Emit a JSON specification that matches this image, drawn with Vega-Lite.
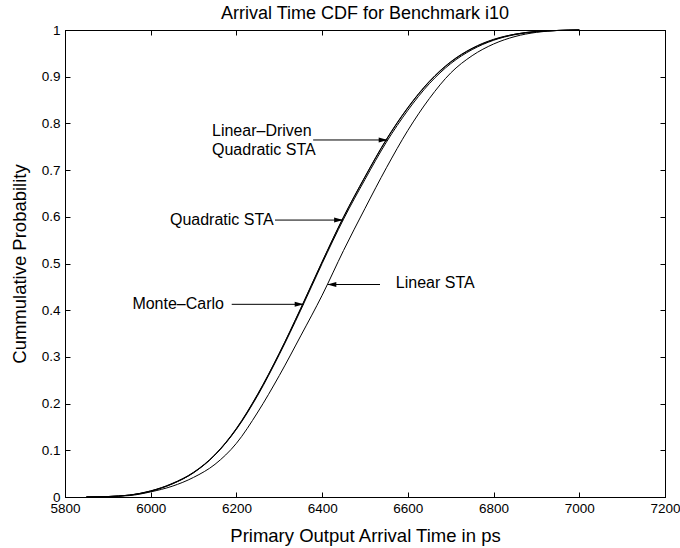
{
  "$schema": "https://vega.github.io/schema/vega-lite/v6.json",
  "width": 600,
  "height": 467,
  "autosize": {"type": "none"},
  "padding": {"left": 65, "top": 30, "right": 15, "bottom": 51},
  "background": "white",
  "config": {"view": {"stroke": "black", "strokeWidth": 1}, "font": "Liberation Sans"},
  "title": {"text": "Arrival Time CDF for Benchmark i10", "fontSize": 18, "fontWeight": "normal", "font": "Liberation Sans", "color": "black", "anchor": "middle", "baseline": "bottom", "offset": 10, "dy": 28},
  "datasets": {
    "curves": [
      {"s":"Monte-Carlo","t":5850,"p":0},{"s":"Monte-Carlo","t":5900,"p":0.001},{"s":"Monte-Carlo","t":5950,"p":0.004},{"s":"Monte-Carlo","t":6000,"p":0.013},{"s":"Monte-Carlo","t":6050,"p":0.028},{"s":"Monte-Carlo","t":6100,"p":0.052},{"s":"Monte-Carlo","t":6150,"p":0.09},{"s":"Monte-Carlo","t":6200,"p":0.145},{"s":"Monte-Carlo","t":6250,"p":0.218},{"s":"Monte-Carlo","t":6300,"p":0.305},{"s":"Monte-Carlo","t":6350,"p":0.4},{"s":"Monte-Carlo","t":6400,"p":0.5},{"s":"Monte-Carlo","t":6450,"p":0.595},{"s":"Monte-Carlo","t":6500,"p":0.68},{"s":"Monte-Carlo","t":6550,"p":0.76},{"s":"Monte-Carlo","t":6600,"p":0.828},{"s":"Monte-Carlo","t":6650,"p":0.885},{"s":"Monte-Carlo","t":6700,"p":0.928},{"s":"Monte-Carlo","t":6750,"p":0.958},{"s":"Monte-Carlo","t":6800,"p":0.978},{"s":"Monte-Carlo","t":6850,"p":0.99},{"s":"Monte-Carlo","t":6900,"p":0.996},{"s":"Monte-Carlo","t":6950,"p":0.999},{"s":"Monte-Carlo","t":7000,"p":1},
      {"s":"Quadratic STA","t":5850,"p":0},{"s":"Quadratic STA","t":5900,"p":0.001},{"s":"Quadratic STA","t":5950,"p":0.004},{"s":"Quadratic STA","t":6000,"p":0.013},{"s":"Quadratic STA","t":6050,"p":0.029},{"s":"Quadratic STA","t":6100,"p":0.053},{"s":"Quadratic STA","t":6150,"p":0.091},{"s":"Quadratic STA","t":6200,"p":0.147},{"s":"Quadratic STA","t":6250,"p":0.221},{"s":"Quadratic STA","t":6300,"p":0.308},{"s":"Quadratic STA","t":6350,"p":0.404},{"s":"Quadratic STA","t":6400,"p":0.504},{"s":"Quadratic STA","t":6450,"p":0.6},{"s":"Quadratic STA","t":6500,"p":0.686},{"s":"Quadratic STA","t":6550,"p":0.766},{"s":"Quadratic STA","t":6600,"p":0.834},{"s":"Quadratic STA","t":6650,"p":0.89},{"s":"Quadratic STA","t":6700,"p":0.932},{"s":"Quadratic STA","t":6750,"p":0.961},{"s":"Quadratic STA","t":6800,"p":0.98},{"s":"Quadratic STA","t":6850,"p":0.991},{"s":"Quadratic STA","t":6900,"p":0.997},{"s":"Quadratic STA","t":6950,"p":0.999},{"s":"Quadratic STA","t":7000,"p":1},
      {"s":"Linear-Driven Quadratic STA","t":5850,"p":0},{"s":"Linear-Driven Quadratic STA","t":5900,"p":0.001},{"s":"Linear-Driven Quadratic STA","t":5950,"p":0.004},{"s":"Linear-Driven Quadratic STA","t":6000,"p":0.012},{"s":"Linear-Driven Quadratic STA","t":6050,"p":0.028},{"s":"Linear-Driven Quadratic STA","t":6100,"p":0.052},{"s":"Linear-Driven Quadratic STA","t":6150,"p":0.09},{"s":"Linear-Driven Quadratic STA","t":6200,"p":0.146},{"s":"Linear-Driven Quadratic STA","t":6250,"p":0.22},{"s":"Linear-Driven Quadratic STA","t":6300,"p":0.307},{"s":"Linear-Driven Quadratic STA","t":6350,"p":0.403},{"s":"Linear-Driven Quadratic STA","t":6400,"p":0.503},{"s":"Linear-Driven Quadratic STA","t":6450,"p":0.599},{"s":"Linear-Driven Quadratic STA","t":6500,"p":0.685},{"s":"Linear-Driven Quadratic STA","t":6550,"p":0.765},{"s":"Linear-Driven Quadratic STA","t":6600,"p":0.833},{"s":"Linear-Driven Quadratic STA","t":6650,"p":0.889},{"s":"Linear-Driven Quadratic STA","t":6700,"p":0.931},{"s":"Linear-Driven Quadratic STA","t":6750,"p":0.96},{"s":"Linear-Driven Quadratic STA","t":6800,"p":0.979},{"s":"Linear-Driven Quadratic STA","t":6850,"p":0.991},{"s":"Linear-Driven Quadratic STA","t":6900,"p":0.997},{"s":"Linear-Driven Quadratic STA","t":6950,"p":0.999},{"s":"Linear-Driven Quadratic STA","t":7000,"p":1},
      {"s":"Linear STA","t":5850,"p":0},{"s":"Linear STA","t":5900,"p":0.001},{"s":"Linear STA","t":5950,"p":0.003},{"s":"Linear STA","t":6000,"p":0.011},{"s":"Linear STA","t":6050,"p":0.023},{"s":"Linear STA","t":6100,"p":0.042},{"s":"Linear STA","t":6150,"p":0.07},{"s":"Linear STA","t":6200,"p":0.115},{"s":"Linear STA","t":6250,"p":0.182},{"s":"Linear STA","t":6300,"p":0.26},{"s":"Linear STA","t":6350,"p":0.345},{"s":"Linear STA","t":6400,"p":0.432},{"s":"Linear STA","t":6450,"p":0.528},{"s":"Linear STA","t":6500,"p":0.618},{"s":"Linear STA","t":6550,"p":0.705},{"s":"Linear STA","t":6600,"p":0.785},{"s":"Linear STA","t":6650,"p":0.853},{"s":"Linear STA","t":6700,"p":0.908},{"s":"Linear STA","t":6750,"p":0.945},{"s":"Linear STA","t":6800,"p":0.97},{"s":"Linear STA","t":6850,"p":0.986},{"s":"Linear STA","t":6900,"p":0.995},{"s":"Linear STA","t":6950,"p":0.999},{"s":"Linear STA","t":7000,"p":1}
    ],
    "arrows": [
      {"label":"Monte-Carlo","x1":6189,"y1":0.4126,"x2":6357,"y2":0.4126,"dir":"right"},
      {"label":"Quadratic STA","x1":6290,"y1":0.593,"x2":6449,"y2":0.593,"dir":"right"},
      {"label":"Linear-Driven Quadratic STA","x1":6379,"y1":0.7645,"x2":6553,"y2":0.7645,"dir":"right"},
      {"label":"Linear STA","x1":6535,"y1":0.455,"x2":6412,"y2":0.455,"dir":"left"}
    ],
    "textsRight": [
      {"text":"Monte–Carlo","x":6171,"y":0.4143},
      {"text":"Quadratic STA","x":6287,"y":0.5931}
    ],
    "textsLeft": [
      {"text":"Linear–Driven","x":6143,"y":0.7827},
      {"text":"Quadratic STA","x":6143,"y":0.7441},
      {"text":"Linear STA","x":6572,"y":0.4572}
    ]
  },
  "layer": [
    {
      "data": {"name": "curves"},
      "mark": {"type": "line", "color": "black", "strokeWidth": 1, "interpolate": "monotone"},
      "encoding": {
        "x": {"field": "t", "type": "quantitative", "scale": {"domain": [5800, 7200], "nice": false, "zero": false},
          "axis": {"orient": "bottom", "values": [5800,6000,6200,6400,6600,6800,7000,7200], "format": "d", "tickSize": -5, "labelPadding": 9, "labelFontSize": 13.5, "labelFont": "Liberation Sans", "labelColor": "black", "tickColor": "black", "domainColor": "black", "grid": false, "labelFlush": false, "labelOverlap": false, "title": "Primary Output Arrival Time in ps", "titleFont": "Liberation Sans", "titleFontSize": 18.5, "titleFontWeight": "normal", "titleColor": "black", "titleY": 44, "titleBaseline": "alphabetic"}},
        "y": {"field": "p", "type": "quantitative", "scale": {"domain": [0, 1], "nice": false},
          "axis": {"orient": "left", "values": [0,0.1,0.2,0.3,0.4,0.5,0.6,0.7,0.8,0.9,1], "format": "~g", "tickSize": -5, "labelPadding": 10, "labelFontSize": 13.5, "labelFont": "Liberation Sans", "labelColor": "black", "tickColor": "black", "domainColor": "black", "grid": false, "labelFlush": false, "labelOverlap": false, "title": "Cummulative Probability", "titleFont": "Liberation Sans", "titleFontSize": 18.5, "titleFontWeight": "normal", "titleColor": "black", "titleX": -40, "titleY": 233.5, "titleAngle": -90, "titleAlign": "center", "titleBaseline": "alphabetic"}},
        "detail": {"field": "s", "type": "nominal"}
      }
    },
    {
      "data": {"name": "curves"},
      "mark": {"type": "line", "strokeOpacity": 0},
      "encoding": {
        "x": {"field": "t", "type": "quantitative", "scale": {"domain": [5800, 7200], "nice": false, "zero": false},
          "axis": {"orient": "top", "values": [5800,6000,6200,6400,6600,6800,7000,7200], "tickSize": -5, "labels": false, "tickColor": "black", "domainColor": "black", "grid": false, "title": null}},
        "y": {"field": "p", "type": "quantitative", "scale": {"domain": [0, 1], "nice": false},
          "axis": {"orient": "right", "values": [0,0.1,0.2,0.3,0.4,0.5,0.6,0.7,0.8,0.9,1], "tickSize": -5, "labels": false, "tickColor": "black", "domainColor": "black", "grid": false, "title": null}},
        "detail": {"field": "s", "type": "nominal"}
      }
    },
    {
      "data": {"name": "arrows"},
      "mark": {"type": "rule", "color": "black", "strokeWidth": 1},
      "encoding": {
        "x": {"field": "x1", "type": "quantitative", "scale": {"domain": [5800, 7200], "nice": false, "zero": false}, "axis": null},
        "x2": {"field": "x2"},
        "y": {"field": "y1", "type": "quantitative", "scale": {"domain": [0, 1], "nice": false}, "axis": null},
        "y2": {"field": "y2"}
      }
    },
    {
      "data": {"name": "arrows"},
      "mark": {"type": "point", "filled": true, "color": "black", "opacity": 1, "size": 100, "strokeWidth": 0},
      "encoding": {
        "x": {"field": "x2", "type": "quantitative", "scale": {"domain": [5800, 7200], "nice": false, "zero": false}, "axis": null},
        "y": {"field": "y2", "type": "quantitative", "scale": {"domain": [0, 1], "nice": false}, "axis": null},
        "shape": {"field": "dir", "type": "nominal", "scale": {"domain": ["right", "left"], "range": ["M0,0L-1.8,-0.5L-1.8,0.5Z", "M0,0L1.8,-0.5L1.8,0.5Z"]}, "legend": null}
      }
    },
    {
      "data": {"name": "textsRight"},
      "mark": {"type": "text", "align": "right", "baseline": "middle", "fontSize": 16, "font": "Liberation Sans", "color": "black"},
      "encoding": {
        "x": {"field": "x", "type": "quantitative", "scale": {"domain": [5800, 7200], "nice": false, "zero": false}, "axis": null},
        "y": {"field": "y", "type": "quantitative", "scale": {"domain": [0, 1], "nice": false}, "axis": null},
        "text": {"field": "text"}
      }
    },
    {
      "data": {"name": "textsLeft"},
      "mark": {"type": "text", "align": "left", "baseline": "middle", "fontSize": 16, "font": "Liberation Sans", "color": "black"},
      "encoding": {
        "x": {"field": "x", "type": "quantitative", "scale": {"domain": [5800, 7200], "nice": false, "zero": false}, "axis": null},
        "y": {"field": "y", "type": "quantitative", "scale": {"domain": [0, 1], "nice": false}, "axis": null},
        "text": {"field": "text"}
      }
    }
  ],
  "resolve": {"axis": {"x": "independent", "y": "independent"}}
}
